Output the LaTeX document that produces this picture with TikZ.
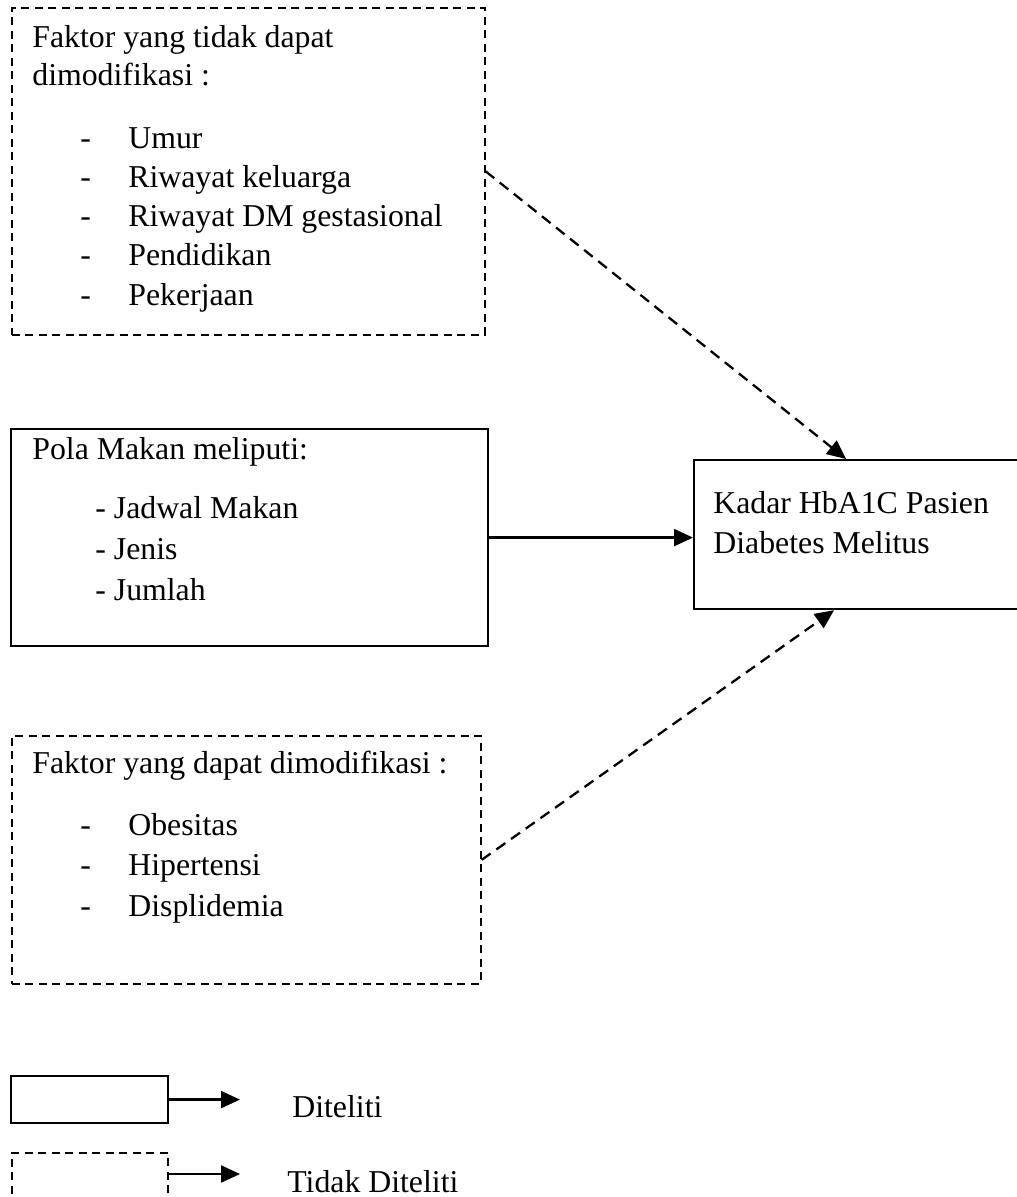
\documentclass[tikz,border=0pt]{standalone}
\usepackage{fontspec}
\setmainfont{Liberation Serif}
\usetikzlibrary{positioning,arrows.meta}

\begin{document}
\begin{tikzpicture}[x=0.02cm,y=-0.02cm,
    font=\fontsize{18.1pt}{21.7pt}\selectfont,
    solidbox/.style={draw,line width=1.25pt,inner sep=0,anchor=north west},
    dashbox/.style={solidbox,line width=1pt,dash pattern=on 0.16cm off 0.11cm},
    txt/.style={anchor=base west,inner sep=0},
    tip/.style={-{Triangle[length=0.38cm,width=0.34cm]},line width=1.3pt},
    dasharrow/.style={tip,dash pattern=on 0.22cm off 0.14cm}]
  \useasboundingbox (0,0) rectangle (1017,1197);
  % boxes
  \node[dashbox,minimum width=9.46cm,minimum height=6.54cm] (tidakMod) at (11,7) {};
  \node[solidbox,minimum width=9.54cm,minimum height=4.34cm] (polaMakan) at (10,428) {};
  \node[dashbox,minimum width=9.38cm,minimum height=4.96cm] (dapatMod) at (11,735) {};
  \node[solidbox,minimum width=6.6cm,minimum height=2.98cm] (hba) at (693,459) {};
  % texts of the boxes
  \node[txt] (tidakHead1) at (32,47) {Faktor yang tidak dapat};
  \node[txt] (tidakHead2) at (32,85) {dimodifikasi :};
  \foreach \lbl [count=\i] in {Umur,Riwayat keluarga,Riwayat DM gestasional,Pendidikan,Pekerjaan}{
    \node[txt] (tidakDash\i) at (80,{148+39.3*(\i-1)}) {-};
    \node[txt] (tidakItem\i) at (128,{148+39.3*(\i-1)}) {\lbl};
  }
  \node[txt] (polaHead) at (32,459) {Pola Makan meliputi:};
  \foreach \lbl [count=\i] in {Jadwal Makan,Jenis,Jumlah}{
    \node[txt] (polaItem\i) at (95,{518+41*(\i-1)}) {- \lbl};
  }
  \node[txt] (dapatHead) at (32,773) {Faktor yang dapat dimodifikasi :};
  \foreach \lbl [count=\i] in {Obesitas,Hipertensi,Displidemia}{
    \node[txt] (dapatDash\i) at (80,{835+40.5*(\i-1)}) {-};
    \node[txt] (dapatItem\i) at (128,{835+40.5*(\i-1)}) {\lbl};
  }
  \node[txt] (hbaLine1) at (713,513) {Kadar HbA1C Pasien};
  \node[txt] (hbaLine2) at (713,553) {Diabetes Melitus};
  % connectors
  \draw[dasharrow] (tidakMod.east) -- ([xshift=-0.26cm]hba.north);
  \draw[tip] (polaMakan.east) -- (polaMakan.east -| hba.west);
  \draw[dasharrow] (dapatMod.east) -- ([xshift=-0.5cm]hba.south);
  % legend
  \node[solidbox,minimum width=3.14cm,minimum height=0.94cm] (legSolid) at (10,1075) {};
  \node[dashbox,minimum width=3.12cm,minimum height=1.2cm] (legDash) at (11,1152) {};
  \coordinate (legSolidEnd) at (240,1098);
  \coordinate (legDashEnd) at (240,1174);
  \draw[tip] (legSolid.east) -- (legSolid.east -| legSolidEnd);
  \draw[tip] (legDashEnd -| legDash.east) -- (legDashEnd);
  \node[txt] (legSolidText) at (292,1117) {Diteliti};
  \node[txt] (legDashText) at (287,1192) {Tidak Diteliti};
\end{tikzpicture}
\end{document}
